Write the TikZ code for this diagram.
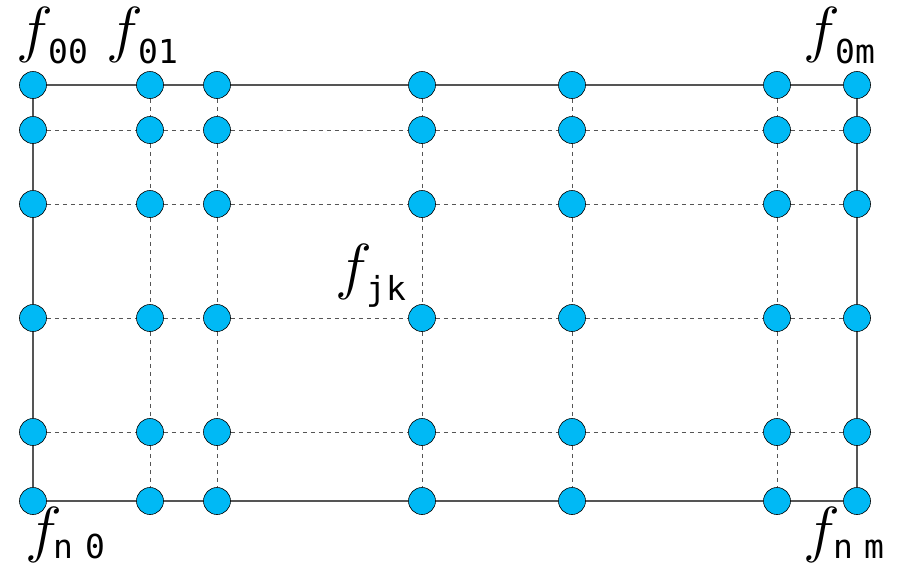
\documentclass[tikz,border=0pt]{standalone}
\usepackage{graphicx}
\usepackage{fontspec}
\newfontfamily\subfnt{DejaVu Sans Mono}
\definecolor{dotblue}{RGB}{0,185,245}
\definecolor{linegray}{RGB}{85,85,85}
% #1 subscript, #2 lowering, #3 offset of subscript
\newcommand\flab[3]{\makebox[#3][l]{\fontsize{20.74}{24}\selectfont\scalebox{3.0}{$f$}}\raisebox{-#2}{\fontsize{33}{36}\selectfont\subfnt #1}}
\begin{document}
\begin{tikzpicture}[x=1pt,y=-1pt,
  dot/.style={circle,draw=black,line width=0.6pt,fill=dotblue,minimum size=27pt,inner sep=0pt},
  frame/.style={draw=linegray,line width=1.1pt},
  inner/.style={draw=linegray,line width=0.8pt,dash pattern=on 4.5pt off 3.5pt},
  lab/.style={anchor=base west,inner sep=0pt}]
\useasboundingbox (0,0) rectangle (900,566);
% grid points
\foreach \x [count=\i from 0] in {33,150,217,422,572,777,857}{
  \foreach \y [count=\j from 0] in {85,130,204,318,432,501}{
    \node[dot] (p\j\i) at (\x,\y) {};
  }
}
% frame
\draw[frame] (p00) -- (p01) -- (p02) -- (p03) -- (p04) -- (p05) -- (p06)
  -- (p16) -- (p26) -- (p36) -- (p46) -- (p56)
  -- (p55) -- (p54) -- (p53) -- (p52) -- (p51) -- (p50)
  -- (p40) -- (p30) -- (p20) -- (p10) -- (p00);
% inner rows
\foreach \j in {1,2,3,4}{
  \draw[inner] (p\j0) -- (p\j1) -- (p\j2) -- (p\j3) -- (p\j4) -- (p\j5) -- (p\j6);
}
% inner columns
\foreach \i in {1,2,3,4,5}{
  \draw[inner] (p0\i) -- (p1\i) -- (p2\i) -- (p3\i) -- (p4\i) -- (p5\i);
}
% labels
\node[lab] (l00) at (16,50) {\flab{00}{13pt}{32pt}};
\node[lab] (l01) at (106,50) {\flab{01}{13pt}{32pt}};
\node[lab] (l0m) at (803,50) {\flab{0m}{13pt}{32pt}};
\node[lab] (ljk) at (335,287) {\flab{jk}{13pt}{31pt}};
\node[lab] (ln0) at (25,550) {\flab{n\kern12pt 0}{8pt}{28pt}};
\node[lab] (lnm) at (803,550) {\flab{n\kern11pt m}{8pt}{30pt}};
\end{tikzpicture}
\end{document}
